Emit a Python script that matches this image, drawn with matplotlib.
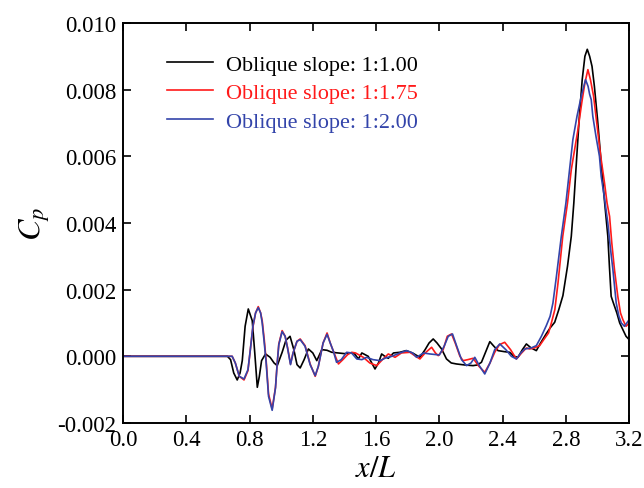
import matplotlib
matplotlib.use("Agg")
import matplotlib.pyplot as plt
from matplotlib.ticker import MultipleLocator, FormatStrFormatter

# Pressure coefficient along the channel for three oblique slopes
x_s100 = [0.0, 0.66, 0.68, 0.70, 0.722, 0.74, 0.754, 0.772, 0.792, 0.817, 0.833, 0.849, 0.862, 0.876,
          0.901, 0.93, 0.955, 0.975, 1.006, 1.03, 1.056, 1.08, 1.10, 1.12, 1.145, 1.172, 1.20, 1.225,
          1.257, 1.29, 1.32, 1.36, 1.40, 1.435, 1.46, 1.488, 1.51, 1.55, 1.593, 1.615, 1.635, 1.655,
          1.677, 1.71, 1.75, 1.79, 1.83, 1.877, 1.91, 1.935, 1.961, 1.985, 2.014, 2.045, 2.075, 2.108,
          2.16, 2.213, 2.24, 2.266, 2.29, 2.319, 2.345, 2.371, 2.41, 2.445, 2.47, 2.497, 2.525, 2.55,
          2.58, 2.613, 2.64, 2.676, 2.70, 2.729, 2.755, 2.781, 2.81, 2.834, 2.85, 2.866, 2.885, 2.903,
          2.92, 2.935, 2.95, 2.965, 2.98, 3.0, 3.023, 3.045, 3.065, 3.075, 3.086, 3.10, 3.122, 3.14,
          3.16, 3.18, 3.2]
cp_s100 = [0.0, 0.0, -0.0001, -0.0005, -0.00071, -0.0005, -0.00013, 0.0009, 0.00142, 0.00107, 0.0001,
           -0.00093, -0.0006, -0.00013, 0.00007, -0.00003, -0.0002, -0.00028, 0.00012, 0.00048, 0.0006,
           0.0002, -0.00025, -0.00035, -0.0001, 0.00022, 0.0001, -0.00013, 0.0002, 0.00018, 0.00012,
           0.0001, 0.00008, 0.0001, 0.0001, -0.00008, 0.0001, 0.0, -0.00038, -0.0002, 0.00007, 0.0,
           -0.00006, 0.0001, 0.00012, 0.00017, 0.0001, -0.00003, 0.0002, 0.0004, 0.00052, 0.0004,
           0.00022, -0.00008, -0.0002, -0.00023, -0.00026, -0.00028, -0.00026, -0.00018, 0.0001,
           0.00044, 0.0003, 0.00017, 0.00014, 0.00012, 0.0, -0.00003, 0.0002, 0.00037, 0.00025,
           0.00017, 0.0004, 0.00068, 0.00085, 0.00102, 0.0014, 0.00182, 0.0027, 0.0036, 0.0046,
           0.0058, 0.0072, 0.0083, 0.009, 0.00921, 0.009, 0.0087, 0.0081, 0.0071, 0.0058, 0.0046,
           0.0036, 0.0027, 0.0018, 0.0016, 0.0013, 0.001, 0.0008, 0.0006, 0.0005]

x_s175 = [0.0, 0.69, 0.71, 0.735, 0.765, 0.79, 0.805, 0.821, 0.838, 0.855, 0.87, 0.88, 0.893, 0.905,
          0.92, 0.943, 0.964, 0.975, 0.985, 1.006, 1.025, 1.04, 1.059, 1.075, 1.10, 1.12, 1.151, 1.183,
          1.215, 1.235, 1.246, 1.265, 1.29, 1.31, 1.33, 1.362, 1.39, 1.42, 1.446, 1.47, 1.519, 1.56,
          1.604, 1.64, 1.677, 1.72, 1.76, 1.814, 1.85, 1.877, 1.91, 1.951, 1.975, 1.993, 2.024, 2.05,
          2.077, 2.10, 2.13, 2.15, 2.18, 2.213, 2.25, 2.287, 2.32, 2.35, 2.38, 2.413, 2.45, 2.487,
          2.52, 2.55, 2.571, 2.60, 2.634, 2.66, 2.69, 2.708, 2.73, 2.75, 2.765, 2.78, 2.81, 2.834,
          2.855, 2.876, 2.90, 2.92, 2.939, 2.955, 2.975, 3.0, 3.02, 3.044, 3.06, 3.076, 3.09, 3.107,
          3.128, 3.145, 3.16, 3.18, 3.2]
cp_s175 = [0.0, 0.0, -0.0002, -0.0006, -0.00071, -0.00043, 0.0002, 0.00087, 0.0013, 0.00149, 0.0013,
           0.00107, 0.0005, -0.00013, -0.00113, -0.00158, -0.00093, -0.0002, 0.00037, 0.00077, 0.0006,
           0.00027, -0.00023, 0.0001, 0.00045, 0.00052, 0.00032, -0.00023, -0.0006, -0.0003, -0.00003,
           0.0004, 0.0007, 0.0004, 0.00015, -0.00023, -0.0001, 0.00005, 0.00012, 0.0001, -0.00003,
           -0.0002, -0.00028, -0.0001, 0.00007, -0.00003, 0.0001, 0.00012, 0.0, -0.00008, 0.0001,
           0.00027, 0.0001, 0.00002, 0.0002, 0.0006, 0.00067, 0.0004, 0.0, -0.00013, -0.0001, -0.00006,
           -0.0003, -0.00048, -0.0002, 0.00012, 0.00035, 0.00042, 0.0002, -0.00008, 0.0001, 0.00025,
           0.00022, 0.00025, 0.00032, 0.0005, 0.0007, 0.001, 0.0014, 0.0022, 0.0029, 0.0036, 0.0046,
           0.0056, 0.0062, 0.0068, 0.0076, 0.0082, 0.0086, 0.0083, 0.0078, 0.0068, 0.006, 0.0052,
           0.0046, 0.0042, 0.0034, 0.0026, 0.0018, 0.0013, 0.0011, 0.0009, 0.001]

x_s200 = [0.0, 0.69, 0.71, 0.735, 0.765, 0.79, 0.805, 0.821, 0.838, 0.855, 0.87, 0.88, 0.893, 0.905,
          0.92, 0.943, 0.964, 0.975, 0.985, 1.006, 1.025, 1.04, 1.059, 1.075, 1.10, 1.12, 1.151, 1.183,
          1.215, 1.235, 1.246, 1.265, 1.29, 1.31, 1.33, 1.35, 1.38, 1.414, 1.445, 1.478, 1.51, 1.54,
          1.58, 1.625, 1.66, 1.70, 1.75, 1.793, 1.83, 1.856, 1.90, 1.94, 2.0, 2.03, 2.056, 2.083,
          2.11, 2.14, 2.172, 2.20, 2.224, 2.255, 2.287, 2.32, 2.35, 2.382, 2.42, 2.455, 2.487, 2.515,
          2.54, 2.58, 2.613, 2.645, 2.676, 2.70, 2.718, 2.74, 2.771, 2.80, 2.823, 2.844, 2.87, 2.897,
          2.924, 2.94, 2.95, 2.96, 2.97, 2.99, 3.012, 3.023, 3.045, 3.065, 3.08, 3.097, 3.118, 3.135,
          3.15, 3.17, 3.2]
cp_s200 = [0.0, 0.0, -0.0002, -0.0006, -0.00068, -0.0004, 0.0002, 0.0009, 0.0013, 0.00146, 0.0013,
           0.001, 0.0004, -0.0002, -0.0012, -0.00162, -0.00095, -0.0002, 0.00035, 0.00074, 0.0006,
           0.00025, -0.00025, 0.0001, 0.00045, 0.0005, 0.0003, -0.00025, -0.00058, -0.0003, -0.00005,
           0.0004, 0.00066, 0.0004, 0.00015, -0.00018, -0.0001, 0.00012, 0.0001, -0.00008, -0.0001,
           -0.00003, -0.0001, -0.00013, -0.00005, 0.0, 0.0001, 0.00017, 0.0001, -0.00003, 0.0001,
           0.00007, 0.00004, 0.0003, 0.0006, 0.00067, 0.0003, -0.0001, -0.00028, -0.0002, -0.00003,
           -0.0003, -0.00053, -0.0002, 0.0002, 0.00037, 0.0002, 0.0, -0.00008, 0.0001, 0.00022,
           0.00025, 0.00032, 0.0006, 0.00092, 0.0012, 0.0016, 0.0024, 0.0036, 0.0046, 0.0056, 0.0065,
           0.0072, 0.0078, 0.0083, 0.0081, 0.00786, 0.0077, 0.0072, 0.0066, 0.006, 0.0054, 0.0047,
           0.004, 0.0033, 0.0026, 0.0016, 0.0012, 0.001, 0.0009, 0.0011]

series_labels = ["Oblique slope: 1:1.00", "Oblique slope: 1:1.75", "Oblique slope: 1:2.00"]
series_colors = ["#000000", "#ff1a1a", "#3344aa"]

plt.rcParams["font.family"] = ["Liberation Serif", "DejaVu Serif"]
plt.rcParams["mathtext.fontset"] = "stix"

fig = plt.figure(figsize=(6.44, 4.89), dpi=100)
ax = fig.add_axes([0.191, 0.133, 0.786, 0.818])

for xs, ys, lab, col in zip([x_s100, x_s175, x_s200], [cp_s100, cp_s175, cp_s200],
                            series_labels, series_colors):
    ax.plot(xs, ys, color=col, lw=1.2, label=lab)

ax.set_xlim(0.0, 3.2)
ax.set_ylim(-0.002, 0.010)
ax.xaxis.set_major_locator(MultipleLocator(0.4))
ax.yaxis.set_major_locator(MultipleLocator(0.002))
ax.xaxis.set_major_formatter(FormatStrFormatter("%.1f"))
ax.yaxis.set_major_formatter(FormatStrFormatter("%.3f"))
ax.tick_params(direction="in", length=6, width=1.2, labelsize=16.5,
               top=True, right=True, pad=5)
ax.tick_params(axis="x", pad=4)
for sp in ax.spines.values():
    sp.set_linewidth(1.4)

ax.set_xlabel(r"$x/L$", fontsize=22, labelpad=3)
ax.set_ylabel(r"$C_p$", fontsize=23, labelpad=4)

leg = ax.legend(loc="upper left", bbox_to_anchor=(0.047, 0.972), frameon=False,
                fontsize=16, handlelength=2.1, handletextpad=0.55, labelspacing=0.36)
for txt, col in zip(leg.get_texts(), series_colors):
    txt.set_color(col)

fig.savefig("out.png", dpi=100)
